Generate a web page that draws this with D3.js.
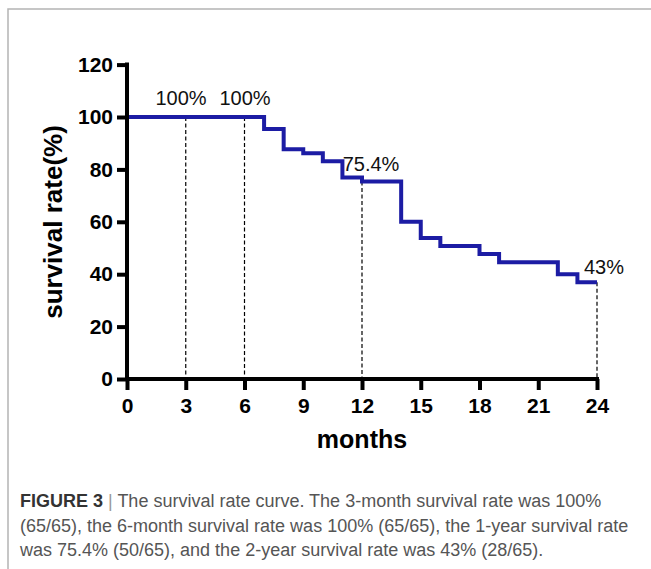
<!DOCTYPE html>
<html><head><meta charset="utf-8">
<script src="https://cdn.jsdelivr.net/npm/d3@7"></script>
<style>body{margin:0;background:#fff}svg{display:block}</style>
</head><body>
<script>
const months = [0, 7, 8, 9, 10, 11, 12, 14, 15, 16, 18, 19, 22, 23, 24];
const survival = [100, 95.4, 87.7, 86.2, 83.1, 76.9, 75.4, 60.0, 53.8, 50.8, 47.7, 44.6, 40.0, 36.9, 36.9];
const markMonths = [3, 6, 12, 24];
const markValues = [100, 100, 75.4, 36.9];
const markLabels = ["100%", "100%", "75.4%", "43%"];
const xTicks = [0, 3, 6, 9, 12, 15, 18, 21, 24];
const yTicks = [0, 20, 40, 60, 80, 100, 120];
const captionLines = [
  "The survival rate curve. The 3-month survival rate was 100%",
  "(65/65), the 6-month survival rate was 100% (65/65), the 1-year survival rate",
  "was 75.4% (50/65), and the 2-year survival rate was 43% (28/65)."
];

const W = 651, H = 569;
const svg = d3.select("body").append("svg").attr("width", W).attr("height", H);

// frame
svg.append("path").attr("d", `M8,${H} L8,9 L${W},9`).attr("fill", "none")
  .attr("stroke", "#b4b4b4").attr("stroke-width", 1.5);

const x = d3.scaleLinear().domain([0, 24]).range([127, 597]);
const y = d3.scaleLinear().domain([0, 120]).range([379, 64.6]);

// dashed lines
svg.selectAll("line.dash").data(markMonths).join("line")
  .attr("x1", d => x(d)).attr("x2", d => x(d))
  .attr("y1", (d, i) => y(markValues[i])).attr("y2", y(0))
  .attr("stroke", "#000").attr("stroke-width", 1.2).attr("stroke-dasharray", "4,2.5");

// curve
const pts = months.map((m, i) => [m, survival[i]]);
svg.append("path").datum(pts)
  .attr("d", d3.line().x(d => x(d[0])).y(d => y(d[1])).curve(d3.curveStepAfter))
  .attr("fill", "none").attr("stroke", "#1c1ca4").attr("stroke-width", 4)
  .attr("stroke-linejoin", "miter");

// axes
const font = "Arial, 'Liberation Sans', sans-serif";
const yAxis = svg.append("g").attr("transform", `translate(${x(0)},0)`)
  .call(d3.axisLeft(y).tickValues(yTicks).tickSize(10).tickSizeOuter(0).tickPadding(4));
const xAxis = svg.append("g").attr("transform", `translate(0,${y(0)})`)
  .call(d3.axisBottom(x).tickValues(xTicks).tickSize(11).tickSizeOuter(0).tickPadding(8));
[xAxis, yAxis].forEach(g => {
  g.select(".domain").attr("stroke", "#000").attr("stroke-width", 4);
  g.selectAll(".tick line").attr("stroke", "#000").attr("stroke-width", 4);
  g.selectAll(".tick text").attr("fill", "#000").attr("font-family", font)
    .attr("font-weight", "bold").attr("font-size", 21);
});
// extend domain lines to square corners
yAxis.select(".domain").attr("d", `M0,${y(120) - 2}V${y(0) + 2}`);
xAxis.select(".domain").attr("d", `M${x(0) - 2},0H${x(24) + 2}`);
yAxis.selectAll(".tick line").attr("x2", -10).attr("x1", 0);

// labels
svg.selectAll("text.mark").data(markLabels).join("text")
  .attr("x", (d, i) => [181, 245, 371, 604][i])
  .attr("y", (d, i) => [105, 105, 171, 274][i])
  .attr("text-anchor", "middle").attr("font-family", font).attr("font-size", 20)
  .attr("fill", "#111").text(d => d);

svg.append("text").attr("x", 362).attr("y", 448).attr("text-anchor", "middle")
  .attr("font-family", font).attr("font-weight", "bold").attr("font-size", 25).text("months");
svg.append("text").attr("transform", "translate(62,222) rotate(-90)")
  .attr("text-anchor", "middle").attr("font-family", font).attr("font-weight", "bold")
  .attr("font-size", 26).text("survival rate(%)");

// caption
const capFont = "'Liberation Sans Narrow', 'Arial Narrow', Arial, sans-serif";
const c1 = svg.append("text").attr("x", 20).attr("y", 507).attr("font-family", capFont).attr("font-size", 18);
c1.append("tspan").attr("font-weight", "bold").attr("fill", "#333").text("FIGURE 3");
c1.append("tspan").attr("fill", "#999").text(" | ");
c1.append("tspan").attr("fill", "#555").text(captionLines[0]);
svg.append("text").attr("x", 20).attr("y", 532).attr("font-family", capFont).attr("font-size", 18)
  .attr("fill", "#555").text(captionLines[1]);
svg.append("text").attr("x", 20).attr("y", 556).attr("font-family", capFont).attr("font-size", 18)
  .attr("fill", "#555").text(captionLines[2]);
</script>
</body></html>
